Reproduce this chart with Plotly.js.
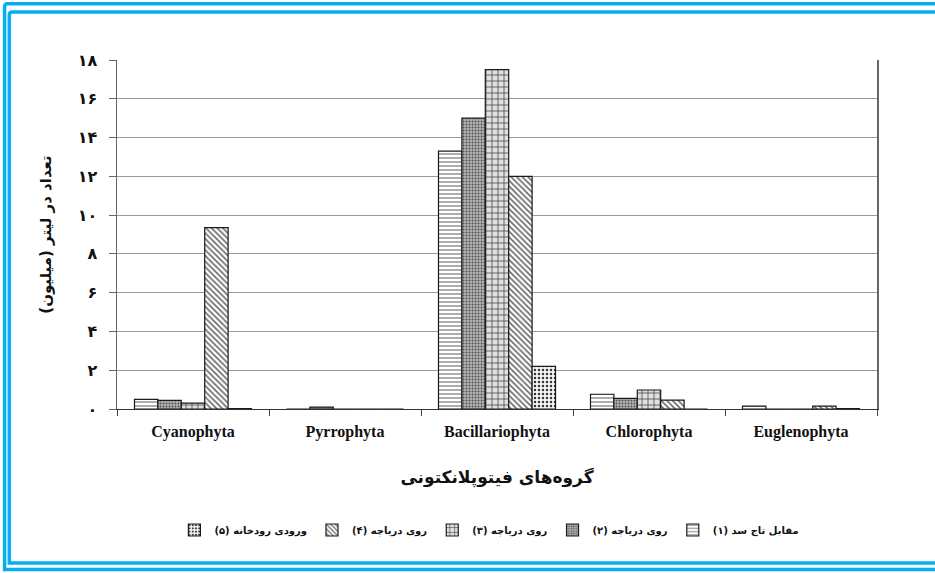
<!DOCTYPE html>
<html>
<head>
<meta charset="utf-8">
<script src="https://cdn.plot.ly/plotly-3.0.1.min.js"></script>
<style>
html,body{margin:0;padding:0;background:#fff;}
#chart{width:935px;height:573px;}
</style>
</head>
<body>
<div id="chart"></div>
<script>
// ---- data ----
var categories = ["Cyanophyta", "Pyrrophyta", "Bacillariophyta", "Chlorophyta", "Euglenophyta"];
var seriesNames = [
  "\u200Fمقابل تاج سد (۱)\u200F",
  "\u200Fروی دریاچه (۲)\u200F",
  "\u200Fروی دریاچه (۳)\u200F",
  "\u200Fروی دریاچه (۴)\u200F",
  "\u200Fورودی رودخانه (۵)\u200F"
];
var station1 = [0.50, 0.00, 13.30, 0.76, 0.15];
var station2 = [0.45, 0.10, 15.00, 0.55, 0.00];
var station3 = [0.30, 0.00, 17.50, 0.98, 0.00];
var station4 = [9.35, 0.00, 12.00, 0.46, 0.15];
var station5 = [0.02, 0.00, 2.20, 0.00, 0.02];
var yTickVals = [0, 2, 4, 6, 8, 10, 12, 14, 16, 18];
var yTickText = ["۰", "۲", "۴", "۶", "۸", "۱۰", "۱۲", "۱۴", "۱۶", "۱۸"];
var yTitle = "\u200Fتعداد در لیتر (میلیون)\u200F";
var xTitle = "گروه‌های فیتوپلانکتونی";

// ---- styles ----
var patterns = [
  {shape: "-", fgcolor: "#8a8a8a", bgcolor: "#ffffff", size: 4, solidity: 0.35},
  {shape: ".", fgcolor: "#505050", bgcolor: "#b4b4b4", size: 3, solidity: 0.35},
  {shape: "+", fgcolor: "#4a4a4a", bgcolor: "#e0e0e0", size: 6, solidity: 0.25},
  {shape: "\\", fgcolor: "#6a6a6a", bgcolor: "#ffffff", size: 4, solidity: 0.4},
  {shape: ".", fgcolor: "#333333", bgcolor: "#f4f4f4", size: 4, solidity: 0.3}
];
var allSeries = [station1, station2, station3, station4, station5];

var traces = allSeries.map(function (vals, i) {
  return {
    type: "bar",
    x: categories,
    y: vals,
    name: seriesNames[i],
    marker: {color: patterns[i].bgcolor, pattern: patterns[i], line: {color: "#1a1a1a", width: 1.2}},
    hoverinfo: "skip"
  };
});

// plot area in pixels: left 117, right 877, top 60, bottom 409
var L = 117, R = 877, T = 60, B = 409;
function px(x) { return (x - L) / (R - L); }
function py(y) { return (B - y) / (B - T); }
function borderPath(xl, yt, yb, xr) {
  return "M " + px(xr) + "," + py(yt) + " L " + px(xl + 3) + "," + py(yt) +
         " Q " + px(xl) + "," + py(yt) + " " + px(xl) + "," + py(yt + 3) +
         " L " + px(xl) + "," + py(yb) + " L " + px(xr) + "," + py(yb);
}

var layout = {
  width: 935, height: 573,
  paper_bgcolor: "#ffffff", plot_bgcolor: "#ffffff",
  margin: {l: L, r: 935 - R, t: T, b: 573 - B},
  barmode: "group",
  bargap: 0.23,
  bargroupgap: 0,
  showlegend: true,
  legend: {
    orientation: "h", x: 0.49, xanchor: "center", y: py(530), yanchor: "middle",
    traceorder: "reversed",
    font: {family: "DejaVu Sans", size: 10, color: "#111", weight: "bold"},
    itemclick: false, itemdoubleclick: false
  },
  xaxis: {
    type: "category",
    showline: true, linecolor: "#333", linewidth: 1,
    ticks: "outside", tickson: "boundaries", ticklen: 6, tickcolor: "#444",
    ticklabelstandoff: 8,
    tickfont: {family: "Liberation Serif", size: 16, color: "#111", weight: "bold"},
    showgrid: false,
    title: {text: xTitle, font: {family: "DejaVu Sans", size: 17, color: "#111", weight: "bold"}, standoff: 30}
  },
  yaxis: {
    range: [0, 18],
    tickvals: yTickVals, ticktext: yTickText,
    showline: true, mirror: true, linecolor: "#666", linewidth: 1.5,
    ticks: "outside", ticklen: 7, tickcolor: "#666",
    ticklabelstandoff: 8,
    tickfont: {family: "DejaVu Sans", size: 16, color: "#111", weight: "bold"},
    showgrid: true, gridcolor: "#9a9a9a", gridwidth: 1,
    zeroline: false,
    title: {text: yTitle, font: {family: "DejaVu Sans", size: 15, color: "#111", weight: "bold"}, standoff: 22}
  },
  shapes: [
    {type: "path", xref: "paper", yref: "paper", path: borderPath(4.6, 3.8, 569.5, 940), line: {color: "#00B0F0", width: 3.5}},
    {type: "path", xref: "paper", yref: "paper", path: borderPath(9.3, 12, 563, 940), line: {color: "#00B0F0", width: 3.5}}
  ]
};

Plotly.newPlot("chart", traces, layout, {displayModeBar: false, staticPlot: true});
</script>
</body>
</html>
